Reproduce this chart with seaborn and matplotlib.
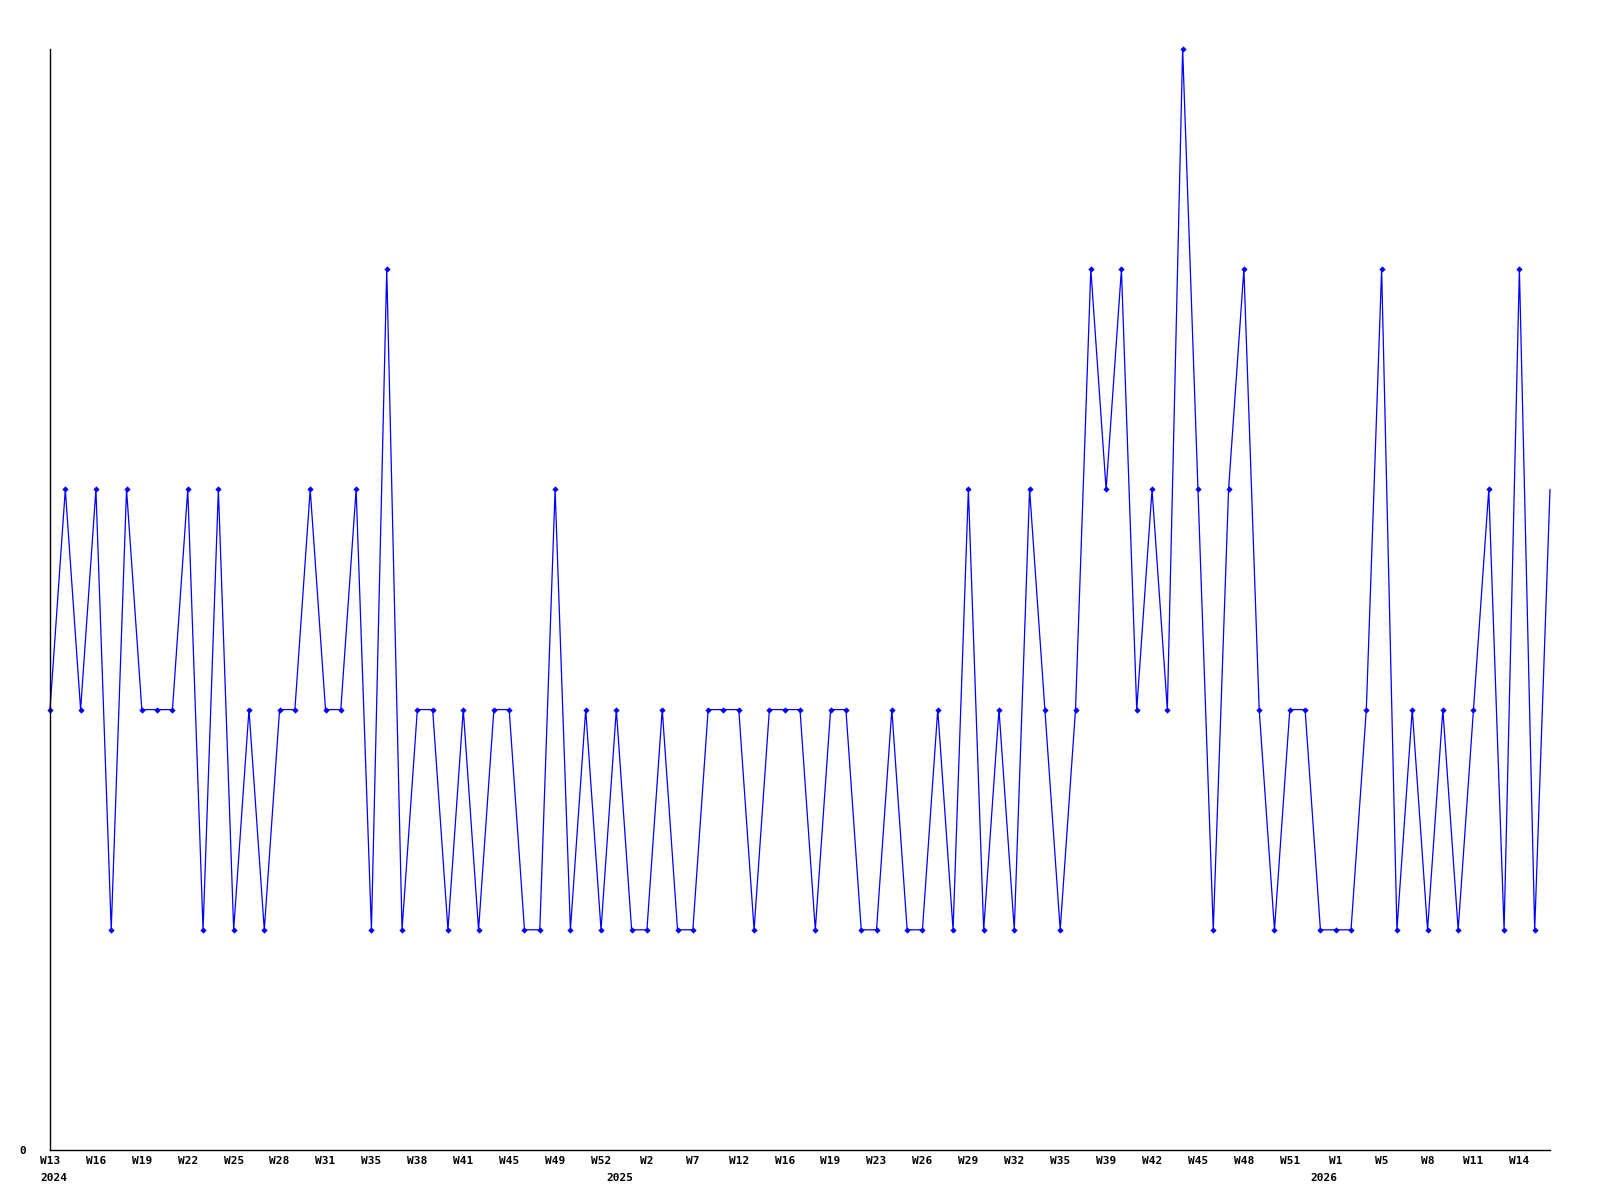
import matplotlib
matplotlib.use("Agg")
import matplotlib.pyplot as plt
import matplotlib.transforms as mtransforms
import seaborn as sns
import pandas as pd

# ---- data ----
values = [2, 3, 2, 3, 1, 3, 2, 2, 2, 3,
          1, 3, 1, 2, 1, 2, 2, 3, 2, 2,
          3, 1, 4, 1, 2, 2, 1, 2, 1, 2,
          2, 1, 1, 3, 1, 2, 1, 2, 1, 1,
          2, 1, 1, 2, 2, 2, 1, 2, 2, 2,
          1, 2, 2, 1, 1, 2, 1, 1, 2, 1,
          3, 1, 2, 1, 3, 2, 1, 2, 4, 3,
          4, 2, 3, 2, 5, 3, 1, 3, 4, 2,
          1, 2, 2, 1, 1, 1, 2, 4, 1, 2,
          1, 2, 1, 2, 3, 1, 4, 1, 3]
tick_labels = ["W13", "W16", "W19", "W22", "W25", "W28", "W31", "W35", "W38",
               "W41", "W45", "W49", "W52", "W2", "W7", "W12", "W16", "W19",
               "W23", "W26", "W29", "W32", "W35", "W39", "W42", "W45", "W48",
               "W51", "W1", "W5", "W8", "W11", "W14"]
tick_step = 3
year_labels = ["2024", "2025", "2026"]
year_index = [0, 37, 83]

df = pd.DataFrame({"idx": range(len(values)), "value": values})

sns.set_style("white")
fig = plt.figure(figsize=(16, 12), dpi=100)
ax = fig.add_axes([50 / 1600, 1 - 1150 / 1200, 1500 / 1600, 1101 / 1200])

sns.lineplot(data=df, x="idx", y="value", ax=ax, color="#0000ff",
             linewidth=0.9, marker="D", markersize=3.2, markeredgewidth=0,
             markevery=list(range(len(values) - 1)), clip_on=False)

ax.set_xlim(0, len(values) - 1)
ax.set_ylim(0, 5)
ax.set_xlabel("")
ax.set_ylabel("")

font = dict(family="DejaVu Sans Mono", weight="bold", size=8, color="black")
ticks = list(range(0, len(values), tick_step))[:len(tick_labels)]
ax.set_xticks(ticks)
ax.set_xticklabels(tick_labels, **font)
ax.set_yticks([0])
ax.set_yticklabels(["0"], **font)
ax.tick_params(axis="x", length=0, pad=4.5)
ax.tick_params(axis="y", length=0, pad=17)

for s in ["top", "right"]:
    ax.spines[s].set_visible(False)
for s in ["left", "bottom"]:
    ax.spines[s].set_color("black")
    ax.spines[s].set_linewidth(1.0)
ax.grid(False)

trans = mtransforms.blended_transform_factory(ax.transData, ax.transAxes)
trans = mtransforms.offset_copy(trans, fig=fig, x=-10, y=-28, units="dots")
for lab, xi in zip(year_labels, year_index):
    ax.text(xi, 0, lab, transform=trans, ha="left", va="center", **font)

fig.savefig("out.png", dpi=100)
